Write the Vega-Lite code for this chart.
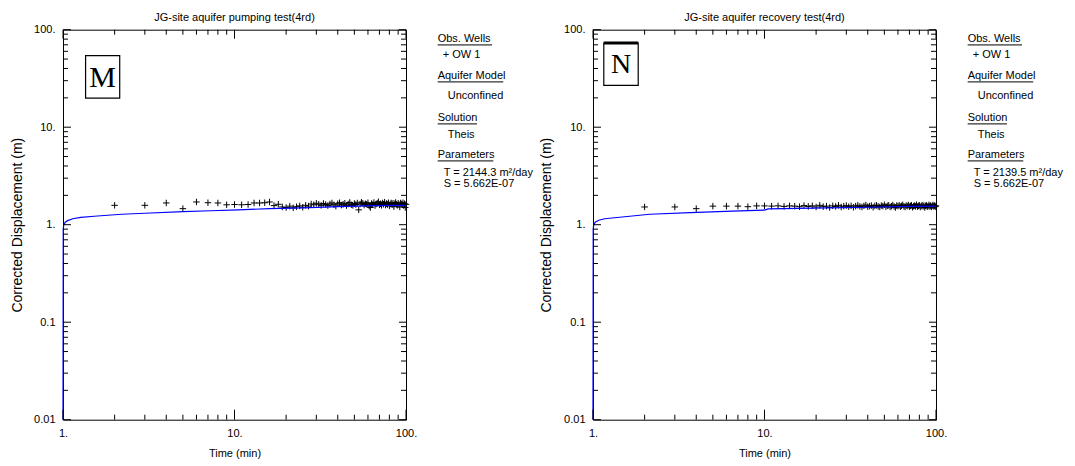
{
"$schema": "https://vega.github.io/schema/vega-lite/v6.json",
"background": "white",
"padding": {"left": 9, "top": 11.7, "right": 5, "bottom": 5},
"bounds": "flush",
"spacing": 187,
"datasets": {
"xmaj": [{"v":1},{"v":10},{"v":100}],
"xmin": [{"v":2},{"v":3},{"v":4},{"v":5},{"v":6},{"v":7},{"v":8},{"v":9},{"v":20},{"v":30},{"v":40},{"v":50},{"v":60},{"v":70},{"v":80},{"v":90}],
"ymaj": [{"v":0.01},{"v":0.1},{"v":1},{"v":10},{"v":100}],
"ymin": [{"v":0.02},{"v":0.03},{"v":0.04},{"v":0.05},{"v":0.06},{"v":0.07},{"v":0.08},{"v":0.09},{"v":0.2},{"v":0.3},{"v":0.4},{"v":0.5},{"v":0.6},{"v":0.7},{"v":0.8},{"v":0.9},{"v":2},{"v":3},{"v":4},{"v":5},{"v":6},{"v":7},{"v":8},{"v":9},{"v":20},{"v":30},{"v":40},{"v":50},{"v":60},{"v":70},{"v":80},{"v":90}],
"pump": [{"t":2,"s":1.58},{"t":3,"s":1.58},{"t":4,"s":1.67},{"t":5,"s":1.46},{"t":6,"s":1.71},{"t":7,"s":1.68},{"t":8,"s":1.67},{"t":9,"s":1.6},{"t":10,"s":1.61},{"t":11,"s":1.6},{"t":12,"s":1.61},{"t":13,"s":1.67},{"t":14,"s":1.67},{"t":15,"s":1.68},{"t":16,"s":1.71},{"t":17,"s":1.57},{"t":18,"s":1.62},{"t":19,"s":1.52},{"t":20,"s":1.5},{"t":21,"s":1.55},{"t":22,"s":1.49},{"t":23,"s":1.53},{"t":24,"s":1.56},{"t":25,"s":1.51},{"t":26,"s":1.58},{"t":27,"s":1.55},{"t":28,"s":1.63},{"t":29,"s":1.6},{"t":30,"s":1.66},{"t":31,"s":1.62},{"t":32,"s":1.58},{"t":33,"s":1.65},{"t":34,"s":1.61},{"t":35,"s":1.57},{"t":36,"s":1.63},{"t":37,"s":1.67},{"t":38,"s":1.6},{"t":39,"s":1.55},{"t":40,"s":1.64},{"t":41,"s":1.68},{"t":42,"s":1.59},{"t":43,"s":1.62},{"t":44,"s":1.66},{"t":45,"s":1.57},{"t":46,"s":1.63},{"t":47,"s":1.69},{"t":48,"s":1.6},{"t":49,"s":1.58},{"t":50,"s":1.65},{"t":51,"s":1.61},{"t":52,"s":1.67},{"t":53,"s":1.42},{"t":54,"s":1.63},{"t":55,"s":1.7},{"t":56,"s":1.66},{"t":57,"s":1.59},{"t":58,"s":1.64},{"t":59,"s":1.62},{"t":60,"s":1.68},{"t":61,"s":1.55},{"t":62,"s":1.5},{"t":63,"s":1.65},{"t":64,"s":1.61},{"t":65,"s":1.69},{"t":66,"s":1.57},{"t":67,"s":1.63},{"t":68,"s":1.66},{"t":69,"s":1.72},{"t":70,"s":1.6},{"t":71,"s":1.64},{"t":72,"s":1.58},{"t":73,"s":1.67},{"t":74,"s":1.62},{"t":75,"s":1.7},{"t":76,"s":1.59},{"t":77,"s":1.65},{"t":78,"s":1.61},{"t":79,"s":1.68},{"t":80,"s":1.56},{"t":81,"s":1.63},{"t":82,"s":1.67},{"t":83,"s":1.6},{"t":84,"s":1.66},{"t":85,"s":1.53},{"t":86,"s":1.64},{"t":87,"s":1.69},{"t":88,"s":1.62},{"t":89,"s":1.58},{"t":90,"s":1.66},{"t":91,"s":1.61},{"t":92,"s":1.52},{"t":93,"s":1.67},{"t":94,"s":1.63},{"t":95,"s":1.6},{"t":96,"s":1.68},{"t":97,"s":1.57},{"t":98,"s":1.64},{"t":99,"s":1.5},{"t":100,"s":1.62}],
"pumpfit": [{"t":1,"s":0.01},{"t":1.003,"s":0.9},{"t":1.01,"s":1.0},{"t":1.03,"s":1.06},{"t":1.065,"s":1.1},{"t":1.14,"s":1.15},{"t":1.27,"s":1.19},{"t":1.52,"s":1.22},{"t":1.82,"s":1.25},{"t":2.2,"s":1.28},{"t":3,"s":1.31},{"t":5,"s":1.36},{"t":7.3,"s":1.39},{"t":10.5,"s":1.42},{"t":16,"s":1.46},{"t":25,"s":1.49},{"t":40,"s":1.53},{"t":65,"s":1.57},{"t":100,"s":1.58}],
"rec": [{"t":2,"s":1.52},{"t":3,"s":1.52},{"t":4,"s":1.46},{"t":5,"s":1.55},{"t":6,"s":1.55},{"t":7,"s":1.55},{"t":8,"s":1.53},{"t":9,"s":1.56},{"t":10,"s":1.56},{"t":11,"s":1.55},{"t":12,"s":1.56},{"t":13,"s":1.54},{"t":14,"s":1.56},{"t":15,"s":1.55},{"t":16,"s":1.53},{"t":17,"s":1.57},{"t":18,"s":1.54},{"t":19,"s":1.56},{"t":20,"s":1.52},{"t":21,"s":1.58},{"t":22,"s":1.53},{"t":23,"s":1.55},{"t":24,"s":1.5},{"t":25,"s":1.56},{"t":26,"s":1.54},{"t":27,"s":1.58},{"t":28,"s":1.52},{"t":29,"s":1.55},{"t":30,"s":1.57},{"t":31,"s":1.53},{"t":32,"s":1.56},{"t":33,"s":1.51},{"t":34,"s":1.55},{"t":35,"s":1.58},{"t":36,"s":1.54},{"t":37,"s":1.52},{"t":38,"s":1.56},{"t":39,"s":1.59},{"t":40,"s":1.53},{"t":41,"s":1.55},{"t":42,"s":1.57},{"t":43,"s":1.51},{"t":44,"s":1.56},{"t":45,"s":1.58},{"t":46,"s":1.54},{"t":47,"s":1.52},{"t":48,"s":1.57},{"t":49,"s":1.55},{"t":50,"s":1.6},{"t":51,"s":1.53},{"t":52,"s":1.56},{"t":53,"s":1.58},{"t":54,"s":1.52},{"t":55,"s":1.55},{"t":56,"s":1.59},{"t":57,"s":1.54},{"t":58,"s":1.5},{"t":59,"s":1.57},{"t":60,"s":1.55},{"t":61,"s":1.58},{"t":62,"s":1.53},{"t":63,"s":1.56},{"t":64,"s":1.6},{"t":65,"s":1.54},{"t":66,"s":1.52},{"t":67,"s":1.57},{"t":68,"s":1.55},{"t":69,"s":1.59},{"t":70,"s":1.53},{"t":71,"s":1.56},{"t":72,"s":1.58},{"t":73,"s":1.51},{"t":74,"s":1.55},{"t":75,"s":1.57},{"t":76,"s":1.54},{"t":77,"s":1.6},{"t":78,"s":1.53},{"t":79,"s":1.56},{"t":80,"s":1.58},{"t":81,"s":1.52},{"t":82,"s":1.55},{"t":83,"s":1.59},{"t":84,"s":1.54},{"t":85,"s":1.57},{"t":86,"s":1.5},{"t":87,"s":1.56},{"t":88,"s":1.58},{"t":89,"s":1.53},{"t":90,"s":1.55},{"t":91,"s":1.6},{"t":92,"s":1.54},{"t":93,"s":1.57},{"t":94,"s":1.52},{"t":95,"s":1.56},{"t":96,"s":1.59},{"t":97,"s":1.54},{"t":98,"s":1.57},{"t":99,"s":1.53},{"t":100,"s":1.56}],
"recfit": [{"t":1,"s":0.01},{"t":1.003,"s":0.9},{"t":1.01,"s":1.0},{"t":1.03,"s":1.06},{"t":1.08,"s":1.11},{"t":1.17,"s":1.15},{"t":1.48,"s":1.2},{"t":2.14,"s":1.28},{"t":3.7,"s":1.33},{"t":6.5,"s":1.38},{"t":10,"s":1.41},{"t":10.5,"s":1.45},{"t":19,"s":1.48},{"t":40,"s":1.51},{"t":70,"s":1.54},{"t":100,"s":1.55}]
},
"hconcat": [
{
"width": 343, "height": 390,
"title": {"text": "JG-site aquifer pumping test(4rd)"},
"layer": [
{"data": {"name": "pump"}, "mark": {"type": "point", "shape": "M-1,0L1,0M0,-1L0,1", "filled": false, "stroke": "#000", "strokeWidth": 1, "size": 42, "opacity": 1},
 "encoding": {"x": {"field": "t", "type": "quantitative", "scale": {"type": "log", "domain": [1, 100], "nice": false}, "axis": {"orient": "bottom", "values": [1, 10, 100], "ticks": false, "labelExpr": "datum.value + '.'", "labelPadding": 8, "title": "Time (min)", "titlePadding": 5.5, "minExtent": 22, "maxExtent": 22}},
  "y": {"field": "s", "type": "quantitative", "scale": {"type": "log", "domain": [0.01, 100], "nice": false}, "axis": {"orient": "left", "values": [0.01, 0.1, 1, 10, 100], "ticks": false, "labelExpr": "datum.value >= 1 ? datum.value + '.' : '' + datum.value", "labelPadding": 8, "title": "Corrected Displacement (m)", "titleFontSize": 14, "titlePadding": 9, "minExtent": 30, "maxExtent": 30}}}},
{"data": {"name": "pumpfit"}, "mark": {"type": "line", "color": "#0000ff", "strokeWidth": 1.2},
 "encoding": {"x": {"field": "t", "type": "quantitative"}, "y": {"field": "s", "type": "quantitative"}}},
{"data": {"name": "xmaj"}, "mark": {"type": "rule", "color": "#000", "strokeWidth": 1}, "encoding": {"x": {"field": "v", "type": "quantitative"}, "y": {"datum": 0.01, "type": "quantitative"}, "y2": {"datum": 0.012664}}},
{"data": {"name": "xmaj"}, "mark": {"type": "rule", "color": "#000", "strokeWidth": 1}, "encoding": {"x": {"field": "v", "type": "quantitative"}, "y": {"datum": 100, "type": "quantitative"}, "y2": {"datum": 80.85}}},
{"data": {"name": "xmin"}, "mark": {"type": "rule", "color": "#000", "strokeWidth": 1}, "encoding": {"x": {"field": "v", "type": "quantitative"}, "y": {"datum": 0.01, "type": "quantitative"}, "y2": {"datum": 0.011253}}},
{"data": {"name": "xmin"}, "mark": {"type": "rule", "color": "#000", "strokeWidth": 1}, "encoding": {"x": {"field": "v", "type": "quantitative"}, "y": {"datum": 100, "type": "quantitative"}, "y2": {"datum": 88.86}}},
{"data": {"name": "ymaj"}, "mark": {"type": "rule", "color": "#000", "strokeWidth": 1}, "encoding": {"y": {"field": "v", "type": "quantitative"}, "x": {"datum": 1, "type": "quantitative"}, "x2": {"datum": 1.1133}}},
{"data": {"name": "ymaj"}, "mark": {"type": "rule", "color": "#000", "strokeWidth": 1}, "encoding": {"y": {"field": "v", "type": "quantitative"}, "x": {"datum": 100, "type": "quantitative"}, "x2": {"datum": 91.03}}},
{"data": {"name": "ymin"}, "mark": {"type": "rule", "color": "#000", "strokeWidth": 1}, "encoding": {"y": {"field": "v", "type": "quantitative"}, "x": {"datum": 1, "type": "quantitative"}, "x2": {"datum": 1.0694}}},
{"data": {"name": "ymin"}, "mark": {"type": "rule", "color": "#000", "strokeWidth": 1}, "encoding": {"y": {"field": "v", "type": "quantitative"}, "x": {"datum": 100, "type": "quantitative"}, "x2": {"datum": 93.51}}},
{"data": {"values": [{}]}, "mark": {"type": "rect", "fill": "#fff", "stroke": "#000", "strokeWidth": 1.2},
 "encoding": {"x": {"datum": 1.354, "type": "quantitative"}, "x2": {"datum": 2.141}, "y": {"datum": 54.1, "type": "quantitative"}, "y2": {"datum": 19.89}}},
{"data": {"values": [{}]}, "mark": {"type": "text", "text": "M", "font": "Liberation Serif", "fontSize": 30, "align": "center", "baseline": "alphabetic"},
 "encoding": {"x": {"datum": 1.70, "type": "quantitative"}, "y": {"datum": 25.6, "type": "quantitative"}}},
{"data": {"values": [{}]}, "mark": {"type": "text", "text": "Obs. Wells", "align": "left", "baseline": "alphabetic"}, "encoding": {"x": {"datum": 153, "type": "quantitative"}, "y": {"datum": 74.1, "type": "quantitative"}}},
{"data": {"values": [{}]}, "mark": {"type": "text", "text": "+ OW 1", "align": "left", "baseline": "alphabetic"}, "encoding": {"x": {"datum": 163.7, "type": "quantitative"}, "y": {"datum": 50.8, "type": "quantitative"}}},
{"data": {"values": [{}]}, "mark": {"type": "text", "text": "Aquifer Model", "align": "left", "baseline": "alphabetic"}, "encoding": {"x": {"datum": 153, "type": "quantitative"}, "y": {"datum": 30.9, "type": "quantitative"}}},
{"data": {"values": [{}]}, "mark": {"type": "text", "text": "Unconfined", "align": "left", "baseline": "alphabetic"}, "encoding": {"x": {"datum": 175.1, "type": "quantitative"}, "y": {"datum": 19.5, "type": "quantitative"}}},
{"data": {"values": [{}]}, "mark": {"type": "text", "text": "Solution", "align": "left", "baseline": "alphabetic"}, "encoding": {"x": {"datum": 153, "type": "quantitative"}, "y": {"datum": 11.47, "type": "quantitative"}}},
{"data": {"values": [{}]}, "mark": {"type": "text", "text": "Theis", "align": "left", "baseline": "alphabetic"}, "encoding": {"x": {"datum": 175.1, "type": "quantitative"}, "y": {"datum": 7.68, "type": "quantitative"}}},
{"data": {"values": [{}]}, "mark": {"type": "text", "text": "Parameters", "align": "left", "baseline": "alphabetic"}, "encoding": {"x": {"datum": 153, "type": "quantitative"}, "y": {"datum": 4.79, "type": "quantitative"}}},
{"data": {"values": [{}]}, "mark": {"type": "text", "text": "T = 2144.3 m²/day", "align": "left", "baseline": "alphabetic"}, "encoding": {"x": {"datum": 165.9, "type": "quantitative"}, "y": {"datum": 3.17, "type": "quantitative"}}},
{"data": {"values": [{}]}, "mark": {"type": "text", "text": "S = 5.662E-07", "align": "left", "baseline": "alphabetic"}, "encoding": {"x": {"datum": 165.9, "type": "quantitative"}, "y": {"datum": 2.44, "type": "quantitative"}}},
{"data": {"values": [{}]}, "mark": {"type": "rule", "color": "#000", "strokeWidth": 1}, "encoding": {"x": {"datum": 153, "type": "quantitative"}, "x2": {"datum": 317.3}, "y": {"datum": 69.8, "type": "quantitative"}}},
{"data": {"values": [{}]}, "mark": {"type": "rule", "color": "#000", "strokeWidth": 1}, "encoding": {"x": {"datum": 153, "type": "quantitative"}, "x2": {"datum": 369.2}, "y": {"datum": 29.15, "type": "quantitative"}}},
{"data": {"values": [{}]}, "mark": {"type": "rule", "color": "#000", "strokeWidth": 1}, "encoding": {"x": {"datum": 153, "type": "quantitative"}, "x2": {"datum": 259.4}, "y": {"datum": 10.81, "type": "quantitative"}}},
{"data": {"values": [{}]}, "mark": {"type": "rule", "color": "#000", "strokeWidth": 1}, "encoding": {"x": {"datum": 153, "type": "quantitative"}, "x2": {"datum": 322.8}, "y": {"datum": 4.51, "type": "quantitative"}}}
]
},
{
"width": 343, "height": 390,
"title": {"text": "JG-site aquifer recovery test(4rd)"},
"layer": [
{"data": {"name": "rec"}, "mark": {"type": "point", "shape": "M-1,0L1,0M0,-1L0,1", "filled": false, "stroke": "#000", "strokeWidth": 1, "size": 42, "opacity": 1},
 "encoding": {"x": {"field": "t", "type": "quantitative", "scale": {"type": "log", "domain": [1, 100], "nice": false}, "axis": {"orient": "bottom", "values": [1, 10, 100], "ticks": false, "labelExpr": "datum.value + '.'", "labelPadding": 8, "title": "Time (min)", "titlePadding": 5.5, "minExtent": 22, "maxExtent": 22}},
  "y": {"field": "s", "type": "quantitative", "scale": {"type": "log", "domain": [0.01, 100], "nice": false}, "axis": {"orient": "left", "values": [0.01, 0.1, 1, 10, 100], "ticks": false, "labelExpr": "datum.value >= 1 ? datum.value + '.' : '' + datum.value", "labelPadding": 8, "title": "Corrected Displacement (m)", "titleFontSize": 14, "titlePadding": 9, "minExtent": 30, "maxExtent": 30}}}},
{"data": {"name": "recfit"}, "mark": {"type": "line", "color": "#0000ff", "strokeWidth": 1.2},
 "encoding": {"x": {"field": "t", "type": "quantitative"}, "y": {"field": "s", "type": "quantitative"}}},
{"data": {"name": "xmaj"}, "mark": {"type": "rule", "color": "#000", "strokeWidth": 1}, "encoding": {"x": {"field": "v", "type": "quantitative"}, "y": {"datum": 0.01, "type": "quantitative"}, "y2": {"datum": 0.012664}}},
{"data": {"name": "xmaj"}, "mark": {"type": "rule", "color": "#000", "strokeWidth": 1}, "encoding": {"x": {"field": "v", "type": "quantitative"}, "y": {"datum": 100, "type": "quantitative"}, "y2": {"datum": 80.85}}},
{"data": {"name": "xmin"}, "mark": {"type": "rule", "color": "#000", "strokeWidth": 1}, "encoding": {"x": {"field": "v", "type": "quantitative"}, "y": {"datum": 0.01, "type": "quantitative"}, "y2": {"datum": 0.011253}}},
{"data": {"name": "xmin"}, "mark": {"type": "rule", "color": "#000", "strokeWidth": 1}, "encoding": {"x": {"field": "v", "type": "quantitative"}, "y": {"datum": 100, "type": "quantitative"}, "y2": {"datum": 88.86}}},
{"data": {"name": "ymaj"}, "mark": {"type": "rule", "color": "#000", "strokeWidth": 1}, "encoding": {"y": {"field": "v", "type": "quantitative"}, "x": {"datum": 1, "type": "quantitative"}, "x2": {"datum": 1.1133}}},
{"data": {"name": "ymaj"}, "mark": {"type": "rule", "color": "#000", "strokeWidth": 1}, "encoding": {"y": {"field": "v", "type": "quantitative"}, "x": {"datum": 100, "type": "quantitative"}, "x2": {"datum": 91.03}}},
{"data": {"name": "ymin"}, "mark": {"type": "rule", "color": "#000", "strokeWidth": 1}, "encoding": {"y": {"field": "v", "type": "quantitative"}, "x": {"datum": 1, "type": "quantitative"}, "x2": {"datum": 1.0694}}},
{"data": {"name": "ymin"}, "mark": {"type": "rule", "color": "#000", "strokeWidth": 1}, "encoding": {"y": {"field": "v", "type": "quantitative"}, "x": {"datum": 100, "type": "quantitative"}, "x2": {"datum": 93.51}}},
{"data": {"values": [{}]}, "mark": {"type": "rect", "fill": "#fff", "stroke": "#000", "strokeWidth": 1.2},
 "encoding": {"x": {"datum": 1.156, "type": "quantitative"}, "x2": {"datum": 1.835}, "y": {"datum": 72.9, "type": "quantitative"}, "y2": {"datum": 26.8}}},
{"data": {"values": [{}]}, "mark": {"type": "rule", "color": "#000", "strokeWidth": 3},
 "encoding": {"x": {"datum": 1.156, "type": "quantitative"}, "x2": {"datum": 1.835}, "y": {"datum": 72.9, "type": "quantitative"}}},
{"data": {"values": [{}]}, "mark": {"type": "text", "text": "N", "font": "Liberation Serif", "fontSize": 28, "align": "center", "baseline": "alphabetic"},
 "encoding": {"x": {"datum": 1.457, "type": "quantitative"}, "y": {"datum": 35.9, "type": "quantitative"}}},
{"data": {"values": [{}]}, "mark": {"type": "text", "text": "Obs. Wells", "align": "left", "baseline": "alphabetic"}, "encoding": {"x": {"datum": 153, "type": "quantitative"}, "y": {"datum": 74.1, "type": "quantitative"}}},
{"data": {"values": [{}]}, "mark": {"type": "text", "text": "+ OW 1", "align": "left", "baseline": "alphabetic"}, "encoding": {"x": {"datum": 163.7, "type": "quantitative"}, "y": {"datum": 50.8, "type": "quantitative"}}},
{"data": {"values": [{}]}, "mark": {"type": "text", "text": "Aquifer Model", "align": "left", "baseline": "alphabetic"}, "encoding": {"x": {"datum": 153, "type": "quantitative"}, "y": {"datum": 30.9, "type": "quantitative"}}},
{"data": {"values": [{}]}, "mark": {"type": "text", "text": "Unconfined", "align": "left", "baseline": "alphabetic"}, "encoding": {"x": {"datum": 175.1, "type": "quantitative"}, "y": {"datum": 19.5, "type": "quantitative"}}},
{"data": {"values": [{}]}, "mark": {"type": "text", "text": "Solution", "align": "left", "baseline": "alphabetic"}, "encoding": {"x": {"datum": 153, "type": "quantitative"}, "y": {"datum": 11.47, "type": "quantitative"}}},
{"data": {"values": [{}]}, "mark": {"type": "text", "text": "Theis", "align": "left", "baseline": "alphabetic"}, "encoding": {"x": {"datum": 175.1, "type": "quantitative"}, "y": {"datum": 7.68, "type": "quantitative"}}},
{"data": {"values": [{}]}, "mark": {"type": "text", "text": "Parameters", "align": "left", "baseline": "alphabetic"}, "encoding": {"x": {"datum": 153, "type": "quantitative"}, "y": {"datum": 4.79, "type": "quantitative"}}},
{"data": {"values": [{}]}, "mark": {"type": "text", "text": "T = 2139.5 m²/day", "align": "left", "baseline": "alphabetic"}, "encoding": {"x": {"datum": 165.9, "type": "quantitative"}, "y": {"datum": 3.17, "type": "quantitative"}}},
{"data": {"values": [{}]}, "mark": {"type": "text", "text": "S = 5.662E-07", "align": "left", "baseline": "alphabetic"}, "encoding": {"x": {"datum": 165.9, "type": "quantitative"}, "y": {"datum": 2.44, "type": "quantitative"}}},
{"data": {"values": [{}]}, "mark": {"type": "rule", "color": "#000", "strokeWidth": 1}, "encoding": {"x": {"datum": 153, "type": "quantitative"}, "x2": {"datum": 317.3}, "y": {"datum": 69.8, "type": "quantitative"}}},
{"data": {"values": [{}]}, "mark": {"type": "rule", "color": "#000", "strokeWidth": 1}, "encoding": {"x": {"datum": 153, "type": "quantitative"}, "x2": {"datum": 369.2}, "y": {"datum": 29.15, "type": "quantitative"}}},
{"data": {"values": [{}]}, "mark": {"type": "rule", "color": "#000", "strokeWidth": 1}, "encoding": {"x": {"datum": 153, "type": "quantitative"}, "x2": {"datum": 259.4}, "y": {"datum": 10.81, "type": "quantitative"}}},
{"data": {"values": [{}]}, "mark": {"type": "rule", "color": "#000", "strokeWidth": 1}, "encoding": {"x": {"datum": 153, "type": "quantitative"}, "x2": {"datum": 322.8}, "y": {"datum": 4.51, "type": "quantitative"}}}
]
}
],
"config": {
"view": {"stroke": "#000", "strokeWidth": 1},
"axis": {"domain": false, "grid": false, "labelFont": "Liberation Sans, Arial, sans-serif", "labelFontSize": 11, "labelColor": "#000", "titleFont": "Liberation Sans, Arial, sans-serif", "titleFontSize": 11, "titleFontWeight": "normal", "titleColor": "#000", "labelFlush": false, "labelOverlap": false},
"title": {"font": "Liberation Sans, Arial, sans-serif", "fontSize": 11, "fontWeight": "normal", "color": "#000", "offset": 0.2, "baseline": "alphabetic", "anchor": "middle", "frame": "group"},
"text": {"font": "Liberation Sans, Arial, sans-serif", "fontSize": 11, "color": "#000"}
}
}
